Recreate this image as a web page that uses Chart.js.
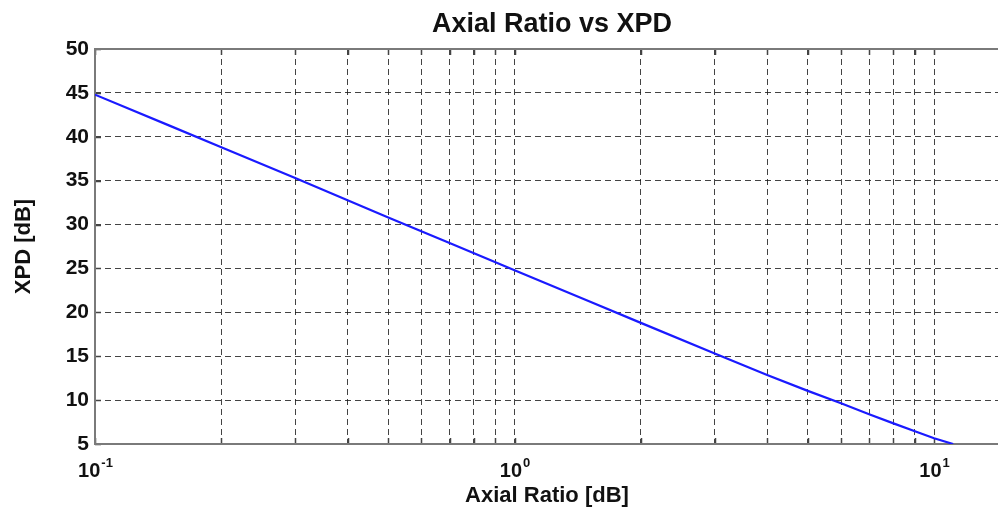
<!DOCTYPE html>
<html>
<head>
<meta charset="utf-8">
<script src="https://cdn.jsdelivr.net/npm/chart.js@4/dist/chart.umd.min.js"></script>
<style>
    html, body { margin: 0; padding: 0; background: #fff; }
    #wrap { width: 998px; height: 514px; position: relative; }
</style>
</head>
<body>
<div id="wrap"><canvas id="plot"></canvas></div>
<script>
// values
const axialRatio = [0.1, 0.15, 0.2, 0.3, 0.5, 0.7, 1, 1.5, 2, 3, 4, 5, 6, 7, 8, 9, 10, 11.1];
const xpd = [44.8, 41.3, 38.8, 35.3, 30.8, 27.9, 24.8, 21.3, 18.8, 15.3, 12.85, 11.05, 9.65, 8.4, 7.35, 6.45, 5.65, 5.0];
const xGridValues = [0.1, 0.2, 0.3, 0.4, 0.5, 0.6, 0.7, 0.8, 0.9, 1, 2, 3, 4, 5, 6, 7, 8, 9, 10];
const xDecades = [0.1, 1, 10];
const xDecadeExp = ["-1", "0", "1"];

const FONT = "'Liberation Sans', Arial, sans-serif";

const points = axialRatio.map((v, i) => ({ x: v, y: xpd[i] }));

const matlabLook = {
    id: "matlabLook",
    beforeDatasetsDraw: (chart) => {
        const ctx = chart.ctx;
        const { top, left, right, bottom } = chart.chartArea;
        const xs = chart.scales.x;
        const ys = chart.scales.y;

        ctx.save();
        // inward tick marks
        ctx.strokeStyle = "#444";
        ctx.lineWidth = 1.5;
        ctx.beginPath();
        xGridValues.forEach((v) => {
            const px = Math.round(xs.getPixelForValue(v)) + 0.5;
            ctx.moveTo(px, bottom);
            ctx.lineTo(px, bottom - 6);
            ctx.moveTo(px, top);
            ctx.lineTo(px, top + 6);
        });
        ys.ticks.forEach((t) => {
            const py = Math.round(ys.getPixelForValue(t.value)) + 0.5;
            ctx.moveTo(left, py);
            ctx.lineTo(left + 6, py);
        });
        ctx.stroke();

        // axes box
        ctx.strokeStyle = "#7a7a7a";
        ctx.lineWidth = 2;
        ctx.beginPath();
        ctx.moveTo(right + 2, top);
        ctx.lineTo(left, top);
        ctx.lineTo(left, bottom);
        ctx.lineTo(right + 2, bottom);
        ctx.stroke();
        ctx.restore();
    },
    afterDraw: (chart) => {
        const ctx = chart.ctx;
        const xs = chart.scales.x;
        const { top, bottom } = chart.chartArea;

        ctx.save();
        ctx.fillStyle = "#111";

        // title
        ctx.font = "bold 27px " + FONT;
        ctx.textAlign = "center";
        ctx.textBaseline = "alphabetic";
        ctx.fillText("Axial Ratio vs XPD", 552, 32);

        // x tick labels 10^n
        xDecades.forEach((v, i) => {
            const px = xs.getPixelForValue(v);
            ctx.font = "bold 20px " + FONT;
            const wBase = ctx.measureText("10").width;
            ctx.font = "bold 13px " + FONT;
            const wExp = ctx.measureText(xDecadeExp[i]).width;
            const x0 = px - (wBase + wExp) / 2;
            ctx.textAlign = "left";
            ctx.font = "bold 20px " + FONT;
            ctx.fillText("10", x0, 477);
            ctx.font = "bold 13px " + FONT;
            ctx.fillText(xDecadeExp[i], x0 + wBase + 1, 467);
        });

        // axis titles
        ctx.font = "bold 22px " + FONT;
        ctx.textAlign = "center";
        ctx.fillText("Axial Ratio [dB]", 547, 502);

        ctx.translate(30, (top + bottom) / 2);
        ctx.rotate(-Math.PI / 2);
        ctx.fillText("XPD [dB]", 0, 0);
        ctx.restore();
    },
};

const chart = new Chart(document.getElementById("plot"), {
    type: "line",
    data: {
        datasets: [
            {
                label: "XPD",
                data: points,
                borderColor: "#1a1aff",
                borderWidth: 2.2,
                pointRadius: 0,
                tension: 0,
                fill: false,
            },
        ],
    },
    options: {
        responsive: true,
        maintainAspectRatio: false,
        animation: false,
        layout: {
            padding: { top: 49, right: 0, bottom: 0, left: 0 },
        },
        scales: {
            x: {
                type: "logarithmic",
                min: 0.1,
                max: 14.2,
                afterBuildTicks: (scale) => {
                    scale.ticks = xGridValues.map((v) => ({ value: v }));
                },
                afterFit: (scale) => {
                    scale.height = 70;
                },
                ticks: { display: false, autoSkip: false },
                grid: {
                    drawTicks: false,
                    lineWidth: 1,
                    color: (c) => (c.tick && c.tick.value === 0.1 ? "rgba(0,0,0,0)" : "rgba(20,20,20,0.8)"),
                },
                border: { display: false, dash: [6, 4] },
            },
            y: {
                min: 5,
                max: 50,
                afterFit: (scale) => {
                    scale.width = 95;
                },
                ticks: {
                    stepSize: 5,
                    padding: 6,
                    color: "#111",
                    font: { family: FONT, size: 21, weight: "bold" },
                },
                grid: {
                    drawTicks: false,
                    lineWidth: 1,
                    color: (c) =>
                        c.tick && (c.tick.value === 5 || c.tick.value === 50) ? "rgba(0,0,0,0)" : "rgba(20,20,20,0.8)",
                },
                border: { display: false, dash: [6, 4] },
            },
        },
        plugins: {
            legend: { display: false },
            tooltip: { enabled: false },
        },
    },
    plugins: [matlabLook],
});
</script>
</body>
</html>
